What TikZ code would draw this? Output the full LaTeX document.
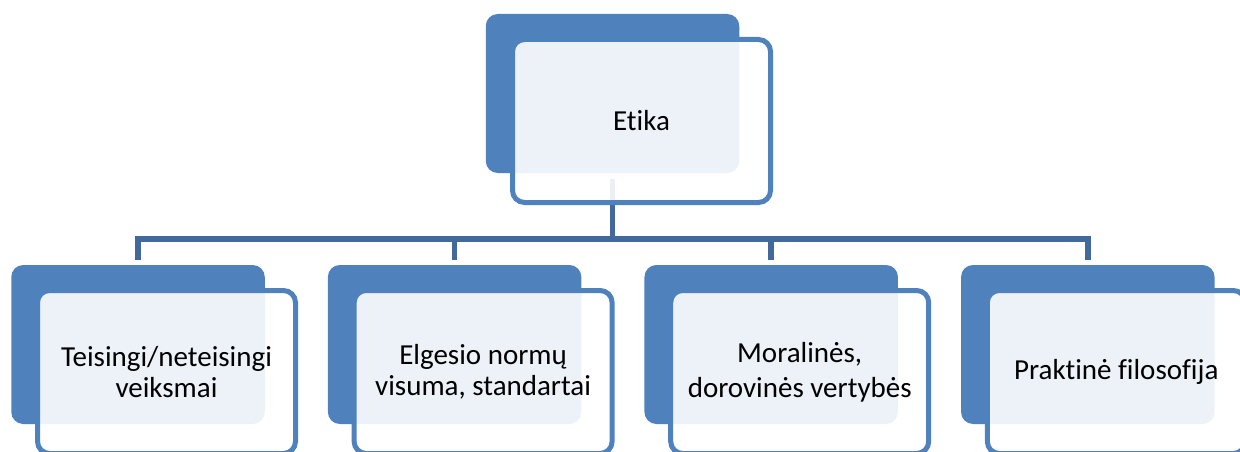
\documentclass[tikz,border=0pt]{standalone}
\usepackage{fontspec}
\setmainfont{Carlito}[RawFeature=-liga]
\definecolor{accent}{HTML}{4F81BD}
\definecolor{connclr}{HTML}{41699C}
\begin{document}
\begin{tikzpicture}[x=1pt,y=1pt,
  darkbox/.style={rectangle, rounded corners=12pt, fill=accent, draw=none,
    minimum width=253.5pt, minimum height=159pt, inner sep=0pt},
  lightbox/.style={rectangle, rounded corners=12pt, draw=accent, line width=5pt,
    fill=white, fill opacity=0.9, text opacity=1,
    minimum width=258pt, minimum height=163pt, inner sep=0pt,
    align=center, font=\fontsize{29}{31}\selectfont},
  conn/.style={draw=connclr, line width=5.5pt}]
\useasboundingbox (0,0) rectangle (1240,451);
% top
\node[darkbox] (t0) at (612.5,357.5) {};
% bottom dark boxes
\foreach \i in {0,1,2,3}{
  \node[darkbox] (b\i) at (138+316.6*\i,106.5) {};
}
\coordinate (bus) at (612.5,212);
\foreach \i in {0,1,2,3}{
  \draw[conn] ([yshift=-6pt]t0.south) -- (bus) -| ([yshift=5pt]b\i.north);
}
\node[lightbox] (l0) at (641.5,330) {Etika};
\node[lightbox] (l1) at (166.5,79) {Teisingi/neteisingi\\veiksmai};
\node[lightbox] (l2) at (166.5+316.6,79) {Elgesio normų\\visuma, standartai};
\node[lightbox] (l3) at (166.5+633.2,79) {Moralinės,\\[4pt]dorovinės vertybės};
\node[lightbox] (l4) at (166.5+949.8,79) {Praktinė filosofija};
\end{tikzpicture}
\end{document}
